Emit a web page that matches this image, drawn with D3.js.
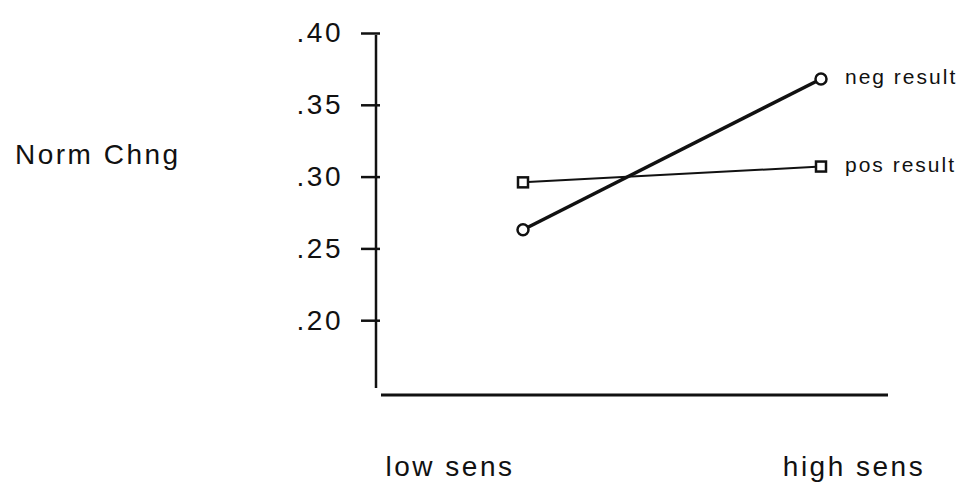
<!DOCTYPE html>
<html>
<head>
<meta charset="utf-8">
<script src="https://cdn.jsdelivr.net/npm/d3@7"></script>
<style>
  body { margin: 0; background: #fff; }
  svg text { font-family: "Liberation Sans", Arial, Helvetica, sans-serif; fill: #111; }
</style>
</head>
<body>
<svg id="chart" width="964" height="486"></svg>
<script>
// data
const categories = ["low sens", "high sens"];
const negResult = [0.263, 0.368];
const posResult = [0.296, 0.307];
const yTicks = [0.20, 0.25, 0.30, 0.35, 0.40];
const yLabel = "Norm Chng";

const svg = d3.select("#chart");

let xScale = d3.scalePoint().domain(categories).range([523, 821]);
// category labels sit under the axis, not under the points
let labelScale = d3.scalePoint().domain(categories).range([450, 854]);
let yScale = d3.scaleLinear().domain([0.15, 0.40]).range([392, 33]);

// y axis
let yAxis = svg.append("g")
    .attr("transform", "translate(376,0)")
    .call(d3.axisLeft(yScale).tickValues(yTicks).tickSize(15).tickPadding(18)
        .tickFormat(d => d3.format(".2f")(d).replace(/^0/, "")));
yAxis.select(".domain").remove();
yAxis.selectAll(".tick line").attr("x1", 4).attr("stroke", "#111").attr("stroke-width", 2.5);
yAxis.selectAll(".tick text")
    .style("font-size", "28px")
    .style("letter-spacing", "2.5px")
    .attr("fill", "#111");

svg.append("line")
    .attr("x1", 376).attr("x2", 376)
    .attr("y1", yScale(0.40) + 2).attr("y2", 388)
    .attr("stroke", "#111").attr("stroke-width", 2.5);

// x baseline
svg.append("line")
    .attr("x1", 381).attr("x2", 888)
    .attr("y1", 395).attr("y2", 395)
    .attr("stroke", "#111").attr("stroke-width", 3);

// y title
svg.append("text")
    .attr("x", 15).attr("y", 164)
    .style("font-size", "28px")
    .style("letter-spacing", "2.5px")
    .text(yLabel);

// category labels
svg.selectAll(".catLabel")
    .data(categories)
    .enter()
    .append("text")
    .attr("class", "catLabel")
    .attr("x", d => labelScale(d))
    .attr("y", 476)
    .attr("text-anchor", "middle")
    .style("font-size", "28px")
    .style("letter-spacing", "2.5px")
    .text(d => d);

let series = [
    {name: "neg result", values: negResult, width: 3.5, marker: "circle"},
    {name: "pos result", values: posResult, width: 2, marker: "square"}
];

let line = d3.line()
    .x((d, i) => xScale(categories[i]))
    .y(d => yScale(d));

series.forEach(function(s){
    svg.append("path")
        .datum(s.values)
        .attr("d", line)
        .attr("fill", "none")
        .attr("stroke", "#111")
        .attr("stroke-width", s.width);

    if(s.marker == "circle"){
        svg.append("g")
            .selectAll("circle")
            .data(s.values)
            .enter()
            .append("circle")
            .attr("cx", (d, i) => xScale(categories[i]))
            .attr("cy", d => yScale(d))
            .attr("r", 5.5)
            .attr("fill", "#fff")
            .attr("stroke", "#111")
            .attr("stroke-width", 2.5);
    } else {
        svg.append("g")
            .selectAll("rect")
            .data(s.values)
            .enter()
            .append("rect")
            .attr("x", (d, i) => xScale(categories[i]) - 5)
            .attr("y", d => yScale(d) - 5)
            .attr("width", 10)
            .attr("height", 10)
            .attr("fill", "#fff")
            .attr("stroke", "#111")
            .attr("stroke-width", 2.5);
    }

    // label at the right end
    let last = s.values[s.values.length - 1];
    svg.append("text")
        .attr("x", xScale(categories[categories.length - 1]) + 24)
        .attr("y", yScale(last) + 5)
        .style("font-size", "21px")
        .style("letter-spacing", "2px")
        .text(s.name);
});
</script>
</body>
</html>
